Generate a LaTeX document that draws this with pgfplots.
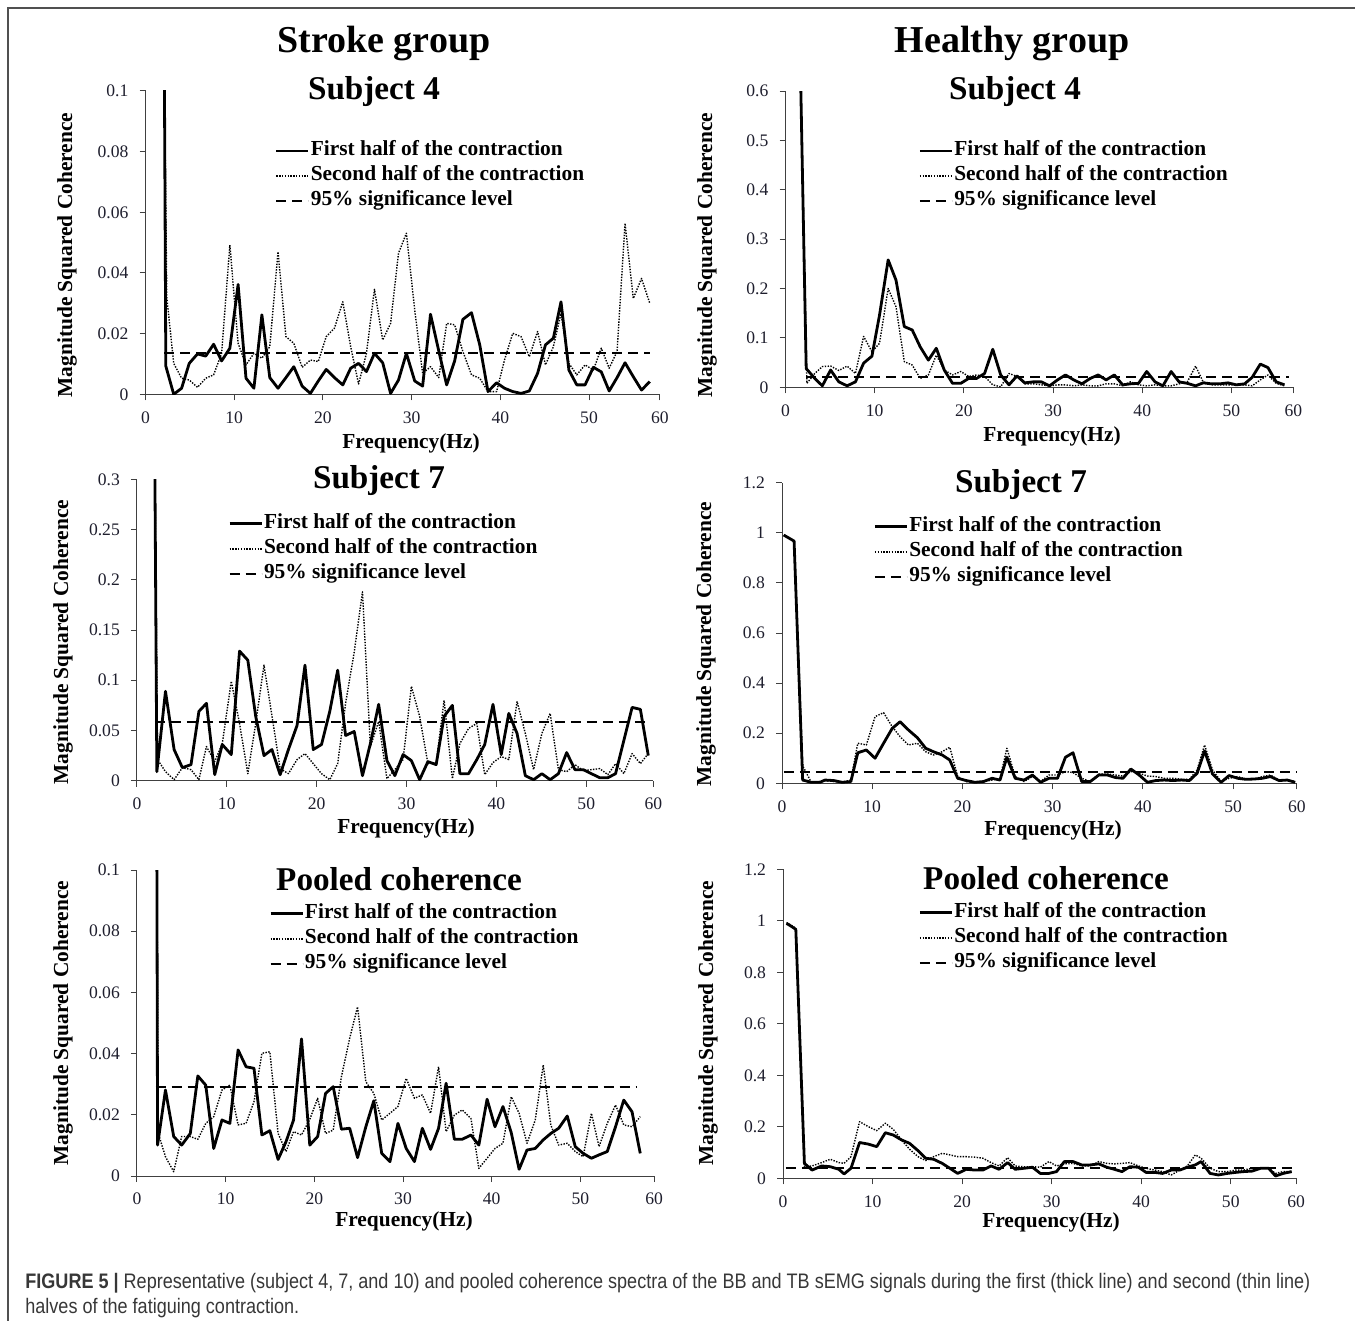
\documentclass[border=0pt]{standalone}
\usepackage{fontspec}
\setmainfont{Liberation Serif}
\newfontfamily\capfont{Liberation Sans}
\usepackage{graphicx}
\usepackage{pgfplots}
\pgfplotsset{compat=1.18}
\definecolor{tickc}{RGB}{30,30,45}
\definecolor{capc}{RGB}{55,55,55}
\definecolor{framec}{RGB}{80,80,80}
\newlength\capw
\newcommand\capone{\textbf{FIGURE 5 |} Representative (subject 4, 7, and 10) and pooled coherence spectra of the BB and TB sEMG signals during the first (thick line) and second (thin line)}
\newcommand\captwo{halves of the fatiguing contraction.}
\pgfplotsset{
 myax/.style={
  scale only axis, axis x line*=bottom, axis y line*=left,
  axis line style={black!75, line width=0.5pt, -},
  tick style={black!75, line width=0.5pt}, tick align=outside, major tick length=3pt,
  xmin=0, ymin=0, enlargelimits=false,
  ticklabel style={font=\fontsize{8.8}{10}\selectfont, text=tickc},
  xticklabel style={yshift=-2pt}, yticklabel style={xshift=-2pt},
  legend style={draw=none, fill=none, anchor=north west, font=\bfseries\fontsize{10.7}{12}\selectfont,
    cells={anchor=west}, inner sep=0pt, row sep=0pt,
    nodes={inner sep=0.5pt, text height=8pt, text depth=3.5pt}},
  legend image code/.code={\draw[##1] (0pt,0pt) -- (16pt,0pt);},
  legend entries={First half of the contraction, Second half of the contraction, 95\% significance level},
 },
 s1/.style={black, line width=1.4pt, line join=round},
 s2/.style={black, line width=0.7pt, dash pattern=on 0.7pt off 0.7pt, line join=round},
 s3/.style={black, line width=1pt, dash pattern=on 5pt off 3pt},
}
\begin{document}
\settowidth{\capw}{\capfont\fontsize{10.5}{12}\selectfont\capone}%
\pgfmathsetmacro\capsx{642.5/\capw}%
\begin{tikzpicture}
\path[use as bounding box] (0pt,0pt) rectangle (677.5pt,-660.5pt);
\draw[framec, line width=0.75pt] (4pt,-660.5pt) -- (4pt,-4pt) -- (677.5pt,-4pt);

% Panel 1: Stroke, Subject 4
\begin{axis}[myax, at={(72.75pt,-197.15pt)}, anchor=south west, width=257.25pt, height=151.65pt,
  xmax=58.0, ymax=0.1, xtick={0,10,20,30,40,50,58.0}, xticklabels={0,10,20,30,40,50,60},
  ytick={0,0.02,0.04,0.06,0.08,0.1}, yticklabels={0,0.02,0.04,0.06,0.08,0.1},
  legend style={at={(0.251,0.845)}}]
\addplot[s1] coordinates {(2.13,0.105)(2.29,0.0093)(3.18,0)(4.07,0.002)(4.93,0.0102)(5.86,0.0133)(6.79,0.0126)(7.68,0.0165)(8.58,0.011)(9.51,0.0152)(10.44,0.0362)(11.33,0.0053)(12.22,0.002)(13.12,0.0262)(14.01,0.0055)(14.94,0.002)(15.83,0.0055)(16.72,0.0091)(17.66,0.0027)(18.59,0.0003)(19.48,0.0044)(20.37,0.0082)(21.3,0.0055)(22.24,0.0031)(23.13,0.0086)(24.02,0.0102)(24.91,0.0075)(25.81,0.0135)(26.74,0.0104)(27.63,0.0003)(28.52,0.0047)(29.41,0.0135)(30.35,0.0044)(31.24,0.0027)(32.13,0.0264)(33.06,0.0143)(33.95,0.0031)(34.85,0.011)(35.78,0.0247)(36.75,0.0269)(37.68,0.0163)(38.61,0.0009)(39.58,0.0038)(40.47,0.002)(41.4,0.0009)(42.34,0.0003)(43.27,0.0011)(44.2,0.0069)(45.09,0.0163)(45.98,0.0185)(46.84,0.0305)(47.73,0.008)(48.62,0.0031)(49.55,0.0031)(50.49,0.0089)(51.38,0.0074)(52.27,0.0011)(53.16,0.0055)(54.06,0.0104)(54.99,0.0058)(55.92,0.0014)(56.85,0.0042)};
\addplot[s2] coordinates {(2.13,0.105)(2.4,0.032)(3.18,0.0102)(4.07,0.0053)(4.93,0.0047)(5.86,0.0023)(6.79,0.0053)(7.68,0.0064)(8.58,0.0135)(9.51,0.0492)(10.44,0.0168)(11.33,0.0097)(12.22,0.0135)(13.12,0.0119)(14.01,0.0157)(14.94,0.047)(15.83,0.019)(16.72,0.0168)(17.66,0.0089)(18.59,0.0113)(19.48,0.0108)(20.37,0.019)(21.3,0.0218)(22.24,0.0305)(23.13,0.0157)(24.02,0.0034)(24.91,0.0135)(25.81,0.0346)(26.74,0.0179)(27.63,0.0234)(28.52,0.0465)(29.41,0.0531)(30.35,0.0278)(31.24,0.0069)(32.13,0.0091)(33.06,0.0055)(33.95,0.0234)(34.85,0.0229)(35.78,0.0141)(36.75,0.0064)(37.68,0.0053)(38.61,0.0009)(39.58,0.0009)(40.47,0.0113)(41.4,0.0201)(42.34,0.019)(43.27,0.0124)(44.2,0.0207)(45.09,0.0097)(45.98,0.0157)(46.84,0.0267)(47.73,0.0102)(48.62,0.0064)(49.55,0.0097)(50.49,0.008)(51.38,0.0152)(52.27,0.0086)(53.16,0.0141)(54.06,0.0564)(54.99,0.0316)(55.92,0.0382)(56.85,0.03)};
\addplot[s3] coordinates {(2.1,0.0135)(56.9,0.0135)};
\end{axis}

% Panel 2: Healthy, Subject 4
\begin{axis}[myax, at={(392.75pt,-193.65pt)}, anchor=south west, width=253.95pt, height=148.15pt,
  xmax=56.95, ymax=0.6, xtick={0,10,20,30,40,50,56.95}, xticklabels={0,10,20,30,40,50,60},
  ytick={0,0.1,0.2,0.3,0.4,0.5,0.6}, yticklabels={0,0.1,0.2,0.3,0.4,0.5,0.6},
  legend style={at={(0.261,0.841)}}]
\addplot[s1] coordinates {(1.7,0.62)(2.32,0.038)(3.28,0.018)(4.13,0.003)(5.06,0.035)(5.98,0.011)(6.91,0.003)(7.84,0.011)(8.76,0.049)(9.69,0.063)(10.54,0.146)(11.51,0.258)(12.39,0.217)(13.32,0.123)(14.21,0.116)(15.1,0.082)(16.02,0.055)(16.91,0.079)(17.8,0.035)(18.73,0.008)(19.65,0.008)(20.54,0.018)(21.43,0.018)(22.32,0.028)(23.24,0.077)(24.13,0.025)(25.06,0.005)(25.95,0.023)(26.83,0.009)(27.76,0.011)(28.69,0.011)(29.61,0.003)(30.5,0.015)(31.39,0.025)(32.32,0.015)(33.24,0.007)(34.17,0.018)(35.06,0.025)(35.95,0.015)(36.87,0.025)(37.8,0.005)(38.69,0.007)(39.58,0.008)(40.5,0.032)(41.43,0.011)(42.32,0.003)(43.24,0.032)(44.13,0.011)(45.06,0.008)(45.98,0.003)(46.83,0.009)(47.76,0.007)(48.69,0.007)(49.61,0.009)(50.54,0.005)(51.47,0.007)(52.32,0.02)(53.24,0.047)(54.09,0.04)(55.02,0.011)(55.95,0.005)};
\addplot[s2] coordinates {(1.7,0.62)(2.4,0.008)(3.28,0.028)(4.13,0.042)(5.06,0.043)(5.98,0.034)(6.91,0.043)(7.84,0.028)(8.76,0.103)(9.69,0.072)(10.54,0.089)(11.51,0.2)(12.39,0.163)(13.32,0.052)(14.21,0.045)(15.1,0.018)(16.02,0.025)(16.91,0.065)(17.8,0.035)(18.73,0.025)(19.65,0.032)(20.54,0.022)(21.43,0.025)(22.32,0.022)(23.24,0.005)(24.13,0.001)(25.06,0.028)(25.95,0.022)(26.83,0.007)(27.76,0.007)(28.69,0.005)(29.61,0.003)(30.5,0.005)(31.39,0.005)(32.32,0.003)(33.24,0.005)(34.17,0.003)(35.06,0.003)(35.95,0.007)(36.87,0.007)(37.8,0.003)(38.69,0.011)(39.58,0.005)(40.5,0.003)(41.43,0.005)(42.32,0.003)(43.24,0.003)(44.13,0.007)(45.06,0.011)(45.98,0.043)(46.83,0.011)(47.76,0.005)(48.69,0.005)(49.61,0.005)(50.54,0.005)(51.47,0.005)(52.32,0.003)(53.24,0.015)(54.09,0.025)(55.02,0.008)(55.95,0.003)};
\addplot[s3] coordinates {(2.3,0.0216)(56.4,0.0216)};
\end{axis}

% Panel 3: Stroke, Subject 7
\begin{axis}[myax, at={(68.45pt,-390.35pt)}, anchor=south west, width=258.25pt, height=150.7pt,
  xmax=57.47, ymax=0.3, xtick={0,10,20,30,40,50,57.47}, xticklabels={0,10,20,30,40,50,60},
  ytick={0,0.05,0.1,0.15,0.2,0.25,0.3}, yticklabels={0,0.05,0.1,0.15,0.2,0.25,0.3},
  legend style={at={(0.176,0.895)}}]
\addplot[s1] coordinates {(2.0,0.31)(2.22,0.009)(3.18,0.089)(4.14,0.031)(5.06,0.013)(6.02,0.016)(6.9,0.069)(7.74,0.077)(8.66,0.006)(9.5,0.036)(10.5,0.026)(11.42,0.129)(12.34,0.12)(13.22,0.064)(14.14,0.025)(15.02,0.031)(15.94,0.006)(16.86,0.031)(17.82,0.055)(18.7,0.115)(19.62,0.031)(20.54,0.036)(21.46,0.069)(22.34,0.11)(23.22,0.045)(24.18,0.049)(25.1,0.005)(25.98,0.037)(26.9,0.076)(27.82,0.02)(28.7,0.005)(29.62,0.026)(30.54,0.02)(31.46,0.001)(32.38,0.019)(33.3,0.016)(34.18,0.064)(35.1,0.075)(35.94,0.007)(36.9,0.007)(37.82,0.021)(38.7,0.036)(39.62,0.076)(40.54,0.026)(41.38,0.067)(42.3,0.047)(43.22,0.005)(44.14,0.001)(45.06,0.007)(45.98,0.001)(46.9,0.007)(47.82,0.028)(48.74,0.011)(49.66,0.011)(50.57,0.007)(51.49,0.003)(52.41,0.003)(53.26,0.007)(54.18,0.04)(55.1,0.073)(56.02,0.071)(56.9,0.025)};
\addplot[s2] coordinates {(2.0,0.31)(2.3,0.021)(3.18,0.009)(4.14,0.001)(5.06,0.013)(6.02,0.011)(6.9,0.001)(7.74,0.034)(8.66,0.019)(9.5,0.037)(10.5,0.099)(11.42,0.057)(12.34,0.007)(13.22,0.057)(14.14,0.115)(15.02,0.065)(15.94,0.012)(16.86,0.007)(17.82,0.021)(18.7,0.027)(19.62,0.017)(20.54,0.007)(21.46,0.001)(22.34,0.017)(23.22,0.077)(24.18,0.128)(25.1,0.188)(25.98,0.034)(26.9,0.059)(27.82,0.002)(28.7,0.011)(29.62,0.021)(30.54,0.094)(31.46,0.064)(32.38,0.017)(33.3,0.018)(34.18,0.08)(35.1,0.002)(35.94,0.037)(36.9,0.052)(37.82,0.057)(38.7,0.006)(39.62,0.018)(40.54,0.024)(41.38,0.021)(42.3,0.079)(43.22,0.047)(44.14,0.011)(45.06,0.047)(45.98,0.067)(46.9,0.011)(47.82,0.009)(48.74,0.016)(49.66,0.01)(50.57,0.011)(51.49,0.012)(52.41,0.006)(53.26,0.017)(54.18,0.007)(55.1,0.027)(56.02,0.017)(56.9,0.027)};
\addplot[s3] coordinates {(2.0,0.0587)(56.7,0.0587)};
\end{axis}

% Panel 4: Healthy, Subject 7
\begin{axis}[myax, at={(391pt,-391.65pt)}, anchor=south west, width=257.45pt, height=150.3pt,
  xmax=57.06, ymax=1.2, xtick={0,10,20,30,40,50,57.06}, xticklabels={0,10,20,30,40,50,60},
  ytick={0,0.2,0.4,0.6,0.8,1,1.2}, yticklabels={0,0.2,0.4,0.6,0.8,1,1.2},
  legend style={at={(0.177,0.896)}}]
\addplot[s1] coordinates {(0.19,0.991)(1.34,0.967)(2.29,0.013)(3.24,0.004)(4.2,0.004)(4.77,0.013)(5.73,0.011)(6.68,0.004)(7.63,0.007)(8.4,0.122)(9.35,0.133)(10.31,0.1)(11.26,0.16)(12.21,0.219)(13.09,0.246)(14.01,0.213)(15.0,0.182)(15.92,0.14)(16.79,0.126)(17.75,0.113)(18.59,0.093)(19.47,0.02)(20.42,0.011)(21.37,0.004)(22.33,0.007)(23.28,0.02)(24.16,0.013)(24.92,0.104)(25.84,0.02)(26.83,0.013)(27.75,0.033)(28.66,0.004)(29.58,0.02)(30.53,0.02)(31.41,0.104)(32.25,0.122)(33.21,0.007)(34.16,0.007)(35.11,0.033)(36.07,0.033)(36.95,0.023)(37.79,0.02)(38.66,0.057)(39.58,0.033)(40.5,0.004)(41.41,0.011)(42.37,0.013)(43.32,0.011)(44.27,0.013)(45.15,0.011)(46.0,0.04)(46.83,0.129)(47.71,0.037)(48.66,0.004)(49.54,0.031)(50.5,0.02)(51.41,0.016)(52.29,0.017)(53.24,0.02)(54.12,0.027)(55.08,0.011)(55.99,0.013)(56.87,0.004)};
\addplot[s2] coordinates {(0.19,0.991)(1.34,0.967)(2.29,0.07)(3.24,0.004)(4.2,0.007)(4.77,0.011)(5.73,0.007)(6.68,0.004)(7.63,0.013)(8.4,0.16)(9.35,0.153)(10.31,0.266)(11.26,0.282)(12.21,0.226)(13.09,0.186)(14.01,0.153)(15.0,0.16)(15.92,0.126)(16.79,0.113)(17.75,0.126)(18.59,0.144)(19.47,0.027)(20.42,0.007)(21.37,0.004)(22.33,0.007)(23.28,0.013)(24.16,0.02)(24.92,0.14)(25.84,0.027)(26.83,0.007)(27.75,0.027)(28.66,0.007)(29.58,0.033)(30.53,0.033)(31.41,0.047)(32.25,0.043)(33.21,0.02)(34.16,0.007)(35.11,0.037)(36.07,0.037)(36.95,0.033)(37.79,0.029)(38.66,0.047)(39.58,0.04)(40.5,0.029)(41.41,0.027)(42.37,0.02)(43.32,0.02)(44.27,0.016)(45.15,0.016)(46.0,0.053)(46.83,0.153)(47.71,0.053)(48.66,0.007)(49.54,0.02)(50.5,0.027)(51.41,0.016)(52.29,0.016)(53.24,0.027)(54.12,0.033)(55.08,0.013)(55.99,0.013)(56.87,0.007)};
\addplot[s3] coordinates {(0.2,0.044)(57.06,0.044)};
\end{axis}

% Panel 5: Stroke, pooled
\begin{axis}[myax, at={(68.45pt,-588pt)}, anchor=south west, width=258.6pt, height=153pt,
  xmax=58.31, ymax=0.1, xtick={0,10,20,30,40,50,58.31}, xticklabels={0,10,20,30,40,50,60},
  ytick={0,0.02,0.04,0.06,0.08,0.1}, yticklabels={0,0.02,0.04,0.06,0.08,0.1},
  legend style={at={(0.255,0.899)}}]
\addplot[s1] coordinates {(2.25,0.105)(2.33,0.0101)(3.22,0.0281)(4.15,0.0129)(5.05,0.0101)(6.02,0.0139)(6.87,0.0327)(7.76,0.0297)(8.66,0.009)(9.59,0.0183)(10.48,0.0172)(11.41,0.0412)(12.31,0.0357)(13.2,0.0352)(14.09,0.0134)(14.99,0.0148)(15.92,0.0054)(16.81,0.0112)(17.66,0.0183)(18.56,0.0448)(19.49,0.0101)(20.38,0.0129)(21.27,0.027)(22.13,0.0292)(23.06,0.0153)(23.99,0.0156)(24.88,0.006)(25.81,0.0161)(26.71,0.0246)(27.6,0.0074)(28.53,0.0047)(29.43,0.0172)(30.36,0.009)(31.29,0.0047)(32.18,0.0156)(33.11,0.0087)(34.01,0.0156)(34.86,0.0303)(35.79,0.012)(36.68,0.012)(37.66,0.0134)(38.55,0.0101)(39.48,0.0251)(40.37,0.0161)(41.27,0.0227)(42.2,0.0142)(43.09,0.0022)(43.98,0.0085)(44.91,0.009)(45.81,0.0118)(46.66,0.0139)(47.55,0.0156)(48.52,0.0196)(49.42,0.0096)(50.31,0.0074)(51.24,0.0058)(52.1,0.0069)(53.03,0.008)(53.96,0.0161)(54.89,0.0248)(55.82,0.021)(56.75,0.0074)};
\addplot[s2] coordinates {(2.25,0.105)(2.41,0.0139)(3.22,0.0063)(4.15,0.0014)(5.05,0.0129)(6.02,0.0129)(6.87,0.012)(7.76,0.0172)(8.66,0.0194)(9.59,0.0281)(10.48,0.0297)(11.41,0.0167)(12.31,0.0172)(13.2,0.0243)(14.09,0.0401)(14.99,0.0406)(15.92,0.0139)(16.81,0.008)(17.66,0.0145)(18.56,0.0134)(19.49,0.0185)(20.38,0.0254)(21.27,0.0139)(22.13,0.015)(23.06,0.0325)(23.99,0.045)(24.88,0.0553)(25.81,0.0308)(26.71,0.027)(27.6,0.0183)(28.53,0.0205)(29.43,0.0227)(30.36,0.0319)(31.29,0.0254)(32.18,0.0265)(33.11,0.0205)(34.01,0.0357)(34.86,0.0145)(35.79,0.0199)(36.68,0.0216)(37.66,0.0188)(38.55,0.0025)(39.48,0.0058)(40.37,0.009)(41.27,0.0107)(42.2,0.0259)(43.09,0.0205)(43.98,0.0107)(44.91,0.0183)(45.81,0.0363)(46.66,0.0167)(47.55,0.0101)(48.52,0.0107)(49.42,0.008)(50.31,0.0063)(51.24,0.0205)(52.1,0.0096)(53.03,0.0172)(53.96,0.0232)(54.89,0.0167)(55.82,0.0161)(56.75,0.0194)};
\addplot[s3] coordinates {(2.1,0.0292)(56.3,0.0292)};
\end{axis}

% Panel 6: Healthy, pooled
\begin{axis}[myax, at={(391.55pt,-589.15pt)}, anchor=south west, width=256.55pt, height=154.5pt,
  xmax=57.31, ymax=1.2, xtick={0,10,20,30,40,50,57.31}, xticklabels={0,10,20,30,40,50,60},
  ytick={0,0.2,0.4,0.6,0.8,1,1.2}, yticklabels={0,0.2,0.4,0.6,0.8,1,1.2},
  legend style={at={(0.263,0.901)}}]
\addplot[s1] coordinates {(0.38,0.99)(0.85,0.98)(1.42,0.967)(2.38,0.058)(3.23,0.032)(4.31,0.048)(5.27,0.045)(6.23,0.035)(6.81,0.017)(7.58,0.039)(8.54,0.139)(9.5,0.133)(10.46,0.123)(11.42,0.177)(12.31,0.168)(13.23,0.149)(14.12,0.136)(15.08,0.107)(15.92,0.078)(16.81,0.074)(17.77,0.058)(18.62,0.039)(19.5,0.019)(20.46,0.035)(21.42,0.032)(22.31,0.032)(23.23,0.048)(24.12,0.035)(25.08,0.061)(25.92,0.035)(26.92,0.039)(27.85,0.043)(28.73,0.019)(29.69,0.019)(30.54,0.026)(31.42,0.065)(32.38,0.065)(33.35,0.052)(34.31,0.052)(35.27,0.056)(36.15,0.043)(37.0,0.035)(37.85,0.026)(38.73,0.045)(39.69,0.043)(40.54,0.023)(41.5,0.023)(42.38,0.019)(43.35,0.032)(44.31,0.032)(45.15,0.043)(46.04,0.052)(46.69,0.065)(47.69,0.019)(48.62,0.013)(49.62,0.019)(50.54,0.023)(51.42,0.026)(52.38,0.028)(53.35,0.039)(54.23,0.039)(55.0,0.009)(55.85,0.019)(56.81,0.026)};
\addplot[s2] coordinates {(0.38,0.993)(0.85,0.984)(1.42,0.971)(2.38,0.045)(3.23,0.048)(4.31,0.061)(5.27,0.074)(6.23,0.061)(6.81,0.058)(7.58,0.084)(8.54,0.22)(9.5,0.201)(10.46,0.185)(11.42,0.214)(12.31,0.19)(13.23,0.149)(14.12,0.113)(15.08,0.084)(15.92,0.069)(16.81,0.084)(17.77,0.097)(18.62,0.091)(19.5,0.084)(20.46,0.084)(21.42,0.082)(22.31,0.078)(23.23,0.061)(24.12,0.048)(25.08,0.08)(25.92,0.048)(26.92,0.045)(27.85,0.045)(28.73,0.043)(29.69,0.065)(30.54,0.048)(31.42,0.056)(32.38,0.058)(33.35,0.048)(34.31,0.048)(35.27,0.065)(36.15,0.058)(37.0,0.056)(37.85,0.058)(38.73,0.061)(39.69,0.048)(40.54,0.039)(41.5,0.032)(42.38,0.026)(43.35,0.013)(44.31,0.032)(45.15,0.048)(46.04,0.091)(46.69,0.078)(47.69,0.039)(48.62,0.026)(49.62,0.026)(50.54,0.032)(51.42,0.032)(52.38,0.039)(53.35,0.039)(54.23,0.039)(55.0,0.019)(55.85,0.026)(56.81,0.026)};
\addplot[s3] coordinates {(0.3,0.039)(56.8,0.039)};
\end{axis}

\begin{scope}[x=0.5pt, y=-0.5pt]
\tikzset{ttl/.style={font=\bfseries\fontsize{19}{22}\selectfont, anchor=base, inner sep=0pt},
 sub/.style={font=\bfseries\fontsize{16.6}{19}\selectfont, anchor=base, inner sep=0pt},
 lab/.style={font=\bfseries\fontsize{10.7}{12}\selectfont, inner sep=0pt},
 ylab/.style={lab, rotate=90, anchor=center},
 xlab/.style={lab, anchor=base}}
\node[ttl] at (384,53) {Stroke group};
\node[ttl] at (1012,53) {Healthy group};
\node[sub] at (374,100) {Subject 4};
\node[sub] at (1015,100) {Subject 4};
\node[sub] at (379,488) {Subject 7};
\node[sub] at (1021,492) {Subject 7};
\node[sub] at (399,890) {Pooled coherence};
\node[sub] at (1046,889) {Pooled coherence};
\node[ylab] at (67,255) {Magnitude Squared Coherence};
\node[ylab] at (707,255) {Magnitude Squared Coherence};
\node[ylab] at (63,642) {Magnitude Squared Coherence};
\node[ylab] at (706,644) {Magnitude Squared Coherence};
\node[ylab] at (63,1023) {Magnitude Squared Coherence};
\node[ylab] at (708,1023) {Magnitude Squared Coherence};
\node[xlab] at (411,448) {Frequency(Hz)};
\node[xlab] at (1052,441) {Frequency(Hz)};
\node[xlab] at (406,833) {Frequency(Hz)};
\node[xlab] at (1053,835) {Frequency(Hz)};
\node[xlab] at (404,1226) {Frequency(Hz)};
\node[xlab] at (1051,1227) {Frequency(Hz)};
\node[anchor=base west, inner sep=0pt, text=capc] at (25,1288) {\scalebox{\capsx}[1]{\capfont\fontsize{10.5}{12}\selectfont\capone}};
\node[anchor=base west, inner sep=0pt, text=capc] at (25,1313) {\scalebox{\capsx}[1]{\capfont\fontsize{10.5}{12}\selectfont\captwo}};
\end{scope}
\end{tikzpicture}
\end{document}
